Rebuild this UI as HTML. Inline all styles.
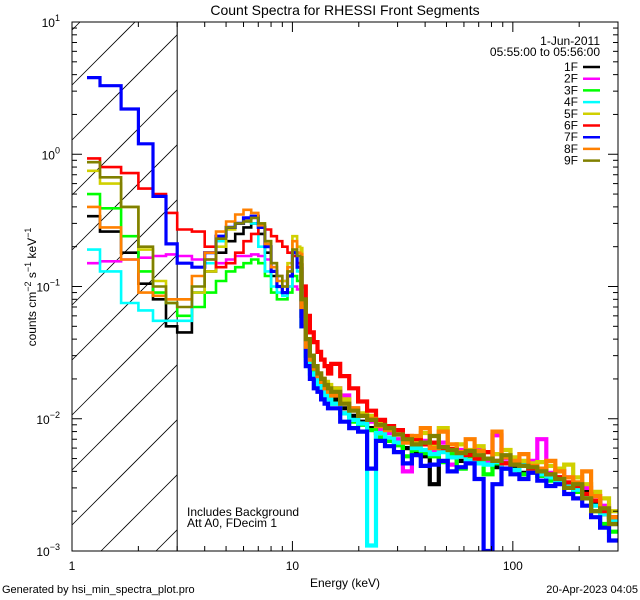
<!DOCTYPE html>
<html><head><meta charset="utf-8"><style>
html,body{margin:0;padding:0;background:#fff;overflow:hidden;width:640px;height:600px;}
svg{display:block;}
svg text{font-family:"Liberation Sans",sans-serif;fill:#000;}
</style></head><body>
<svg id="chart" width="640" height="600" viewBox="0 0 640 600" xmlns="http://www.w3.org/2000/svg">
<rect width="640" height="600" fill="#fff"/>
<text x="345" y="15" font-size="14" text-anchor="middle">Count Spectra for RHESSI Front Segments</text>
<g id="hatch"></g>
<g id="series"></g>
<g id="axes"></g>
<text transform="translate(36,287) rotate(-90)" font-size="12" text-anchor="middle">counts cm<tspan dy="-5" font-size="9">−2</tspan><tspan dy="5"> s</tspan><tspan dy="-5" font-size="9">−1</tspan><tspan dy="5"> keV</tspan><tspan dy="-5" font-size="9">−1</tspan></text>
<text x="345" y="587" font-size="12" text-anchor="middle">Energy (keV)</text>
<text x="2" y="593" font-size="11">Generated by hsi_min_spectra_plot.pro</text>
<text x="638" y="593" font-size="11" text-anchor="end">20-Apr-2023 04:05</text>
<text x="187" y="516" font-size="12">Includes Background</text>
<text x="187" y="527" font-size="12">Att A0, FDecim 1</text>
<text x="600" y="45" font-size="12" text-anchor="end">1-Jun-2011</text>
<text x="600" y="56" font-size="12" text-anchor="end">05:55:00 to 05:56:00</text>
<g id="legend"></g>
</svg>
<script>
const names=["1F","2F","3F","4F","5F","6F","7F","8F","9F"];
const colors=["#000000","#ff00ff","#00ff00","#00ffff","#d0d000","#ff0000","#0000ff","#ff8000","#808000"];
const lowEdges=[1.17,1.34,1.67,2.0,2.33,2.67,3.0];
const midStart=3.0, midStep=0.5, midCount=24;
const highStart=15, highEnd=300, highCount=32;
const sLow=[
[0.34,0.26,0.18,0.105,0.08,0.05],
[0.15,0.155,0.16,0.165,0.17,0.175],
[0.5,0.39,0.24,0.13,0.09,0.075],
[0.19,0.13,0.075,0.066,0.055,0.055],
[0.75,0.6,0.4,0.19,0.11,0.08],
[0.93,0.8,0.72,0.55,0.5,0.36],
[3.8,3.3,2.2,1.2,0.48,0.21],
[0.4,0.28,0.16,0.09,0.085,0.08],
[0.87,0.67,0.4,0.2,0.1,0.075]];
const sMid=[
[0.045,0.09,0.13,0.18,0.22,0.25,0.28,0.3,0.25,0.18,0.12,0.1,0.09,0.12,0.18,0.15,0.06,0.03,0.025,0.022,0.02,0.018,0.016,0.015],
[0.17,0.16,0.16,0.15,0.16,0.17,0.17,0.175,0.17,0.16,0.14,0.12,0.11,0.1,0.1,0.095,0.06,0.04,0.03,0.025,0.022,0.02,0.018,0.017],
[0.06,0.07,0.09,0.11,0.13,0.14,0.15,0.16,0.15,0.12,0.09,0.08,0.08,0.09,0.12,0.11,0.05,0.03,0.024,0.021,0.019,0.017,0.016,0.015],
[0.055,0.09,0.15,0.22,0.28,0.3,0.31,0.3,0.2,0.13,0.1,0.09,0.085,0.1,0.17,0.13,0.05,0.028,0.022,0.02,0.018,0.016,0.015,0.014],
[0.08,0.09,0.13,0.2,0.27,0.3,0.32,0.34,0.3,0.22,0.15,0.12,0.11,0.15,0.24,0.2,0.08,0.04,0.03,0.025,0.022,0.02,0.019,0.018],
[0.27,0.26,0.2,0.14,0.15,0.18,0.22,0.25,0.28,0.27,0.24,0.22,0.2,0.18,0.17,0.15,0.1,0.06,0.045,0.038,0.032,0.028,0.025,0.022],
[0.15,0.14,0.18,0.24,0.28,0.3,0.33,0.34,0.28,0.2,0.13,0.1,0.09,0.12,0.18,0.14,0.05,0.025,0.02,0.017,0.016,0.014,0.013,0.012],
[0.08,0.12,0.18,0.26,0.31,0.35,0.38,0.36,0.29,0.21,0.14,0.11,0.1,0.14,0.22,0.18,0.07,0.035,0.028,0.024,0.021,0.019,0.017,0.016],
[0.07,0.1,0.16,0.23,0.28,0.3,0.31,0.33,0.3,0.22,0.15,0.12,0.1,0.13,0.19,0.17,0.08,0.04,0.03,0.025,0.022,0.02,0.018,0.017]];
const sHigh=[
[0.014,0.012,0.0105,0.0095,0.0085,0.0078,0.0072,0.0065,0.006,0.0055,0.0052,0.0032,0.0058,0.0052,0.0048,0.0055,0.0046,0.005,0.0043,0.0046,0.0044,0.0039,0.0041,0.0042,0.0035,0.0036,0.0031,0.0028,0.0028,0.0023,0.0019,0.0016],
[0.017,0.015,0.012,0.0105,0.0095,0.0082,0.0078,0.007,0.004,0.0065,0.0068,0.0058,0.0066,0.0045,0.0058,0.0052,0.0058,0.0048,0.0075,0.005,0.0047,0.0045,0.0048,0.007,0.0039,0.004,0.0036,0.0032,0.003,0.0026,0.0022,0.0018],
[0.013,0.011,0.0095,0.009,0.0082,0.0072,0.0068,0.0063,0.0052,0.0058,0.0055,0.0052,0.0047,0.0054,0.0042,0.0052,0.0048,0.0038,0.0046,0.0042,0.0041,0.0038,0.004,0.0037,0.0034,0.0034,0.003,0.0028,0.0025,0.002,0.0016,0.0014],
[0.013,0.011,0.0098,0.0092,0.0011,0.0078,0.0072,0.0066,0.007,0.006,0.0058,0.0054,0.0056,0.0051,0.0052,0.0048,0.0046,0.0045,0.0047,0.0042,0.0041,0.0045,0.004,0.0038,0.0036,0.0034,0.0032,0.0029,0.0025,0.0022,0.0019,0.0017],
[0.017,0.014,0.012,0.011,0.0105,0.0095,0.0088,0.0082,0.007,0.0066,0.0078,0.0064,0.0085,0.0058,0.0064,0.0058,0.0062,0.0056,0.0054,0.0058,0.0051,0.0048,0.0046,0.0047,0.0044,0.0042,0.0045,0.0036,0.0032,0.0028,0.0025,0.002],
[0.026,0.021,0.017,0.0135,0.0115,0.0098,0.0088,0.0082,0.0074,0.007,0.0064,0.0066,0.006,0.0059,0.0056,0.0053,0.005,0.0056,0.0048,0.0046,0.0045,0.0044,0.0042,0.0041,0.0038,0.0036,0.0033,0.0031,0.0027,0.0024,0.002,0.0018],
[0.012,0.0095,0.0085,0.008,0.0042,0.0068,0.0062,0.0056,0.0046,0.0053,0.0044,0.0045,0.0048,0.004,0.0043,0.0046,0.0035,0.0009,0.0032,0.0042,0.0038,0.0035,0.0039,0.0034,0.0031,0.0032,0.0027,0.0025,0.0022,0.0018,0.0015,0.0012],
[0.015,0.013,0.012,0.0105,0.01,0.0088,0.0082,0.0076,0.0066,0.0074,0.0085,0.006,0.008,0.0064,0.0056,0.007,0.0057,0.005,0.008,0.0051,0.0048,0.0054,0.0044,0.0042,0.0048,0.004,0.0036,0.0033,0.004,0.0026,0.0021,0.0018],
[0.016,0.013,0.0115,0.0105,0.0098,0.009,0.0085,0.0076,0.007,0.0064,0.0066,0.0074,0.0061,0.0058,0.0055,0.0057,0.0053,0.005,0.0048,0.0053,0.0045,0.0044,0.0043,0.004,0.0038,0.0035,0.003,0.0032,0.0025,0.002,0.0021,0.0016]];
const xMin=1,xMax=300,yMin=1e-3,yMax=10;
const attenE=3.0;
const thickFromE=11;

const L=72,R=618,T=22,B=551,NS="http://www.w3.org/2000/svg";
const lx0=Math.log10(xMin),lx1=Math.log10(xMax),ly0=Math.log10(yMin),ly1=Math.log10(yMax);
function X(e){return L+(Math.log10(e)-lx0)/(lx1-lx0)*(R-L);}
function Y(v){return Math.min(B,B-(Math.log10(v)-ly0)/(ly1-ly0)*(B-T));}
function mk(tag,at,parent){const el=document.createElementNS(NS,tag);for(const k in at)el.setAttribute(k,at[k]);parent.appendChild(el);return el;}

const edges=lowEdges.slice();
for(let i=1;i<=midCount;i++)edges.push(midStart+i*midStep);
for(let i=1;i<=highCount;i++)edges.push(highStart*Math.pow(highEnd/highStart,i/highCount));

// hatch lines computed inside rectangle (45 deg, up-right)
const hg=document.getElementById('hatch');
const defs=mk('defs',{},hg);
const HR=X(attenE);
for(let c=T+8;c<B+(HR-L);c+=55){
  // line: y = c - (x - L)
  let xa=L, ya=c;
  if(ya>B){xa=L+(ya-B);ya=B;}
  let xb=HR, yb=c-(HR-L);
  if(yb<T){xb=L+(c-T);yb=T;}
  if(xa>=xb)continue;
  const ln=mk('line',{x1:xa,y1:ya,x2:xb,y2:yb,stroke:'#000','stroke-width':0.8},hg);
  
  
}
const al=mk('line',{x1:HR,y1:T,x2:HR,y2:B,stroke:'#000','stroke-width':1},hg);



const sg=document.getElementById('series');
const sc=mk('clipPath',{id:'pclip'},defs);
mk('rect',{x:L,y:T,width:R-L,height:B-T},sc);
sg.setAttribute('clip-path','url(#pclip)');
for(let s=0;s<names.length;s++){
  const vals=sLow[s].concat(sMid[s],sHigh[s]);
  let d1='',d2='',prevY=null;
  for(let i=0;i<vals.length;i++){
    const x0=X(edges[i]),x1=Math.min(R,X(edges[i+1])),y=Y(vals[i]);
    if(edges[i]<thickFromE){
      d1+=(i===0?'M':'L')+x0.toFixed(1)+','+y.toFixed(1)+'L'+x1.toFixed(1)+','+y.toFixed(1);
    }else{
      if(d2===''){d2='M'+x0.toFixed(1)+','+(prevY===null?y:prevY).toFixed(1);}
      d2+='L'+x0.toFixed(1)+','+y.toFixed(1)+'L'+x1.toFixed(1)+','+y.toFixed(1);
    }
    prevY=y;
  }
  const g=mk('g',{},sg);
  
  
  mk('path',{d:d1,fill:'none',stroke:colors[s],'stroke-width':s===6?3.2:2.6},g);
  mk('path',{d:d2,fill:'none',stroke:colors[s],'stroke-width':4.2},g);
}

const ag=document.getElementById('axes');
const box=mk('rect',{x:L,y:T,width:R-L,height:B-T,fill:'none',stroke:'#000','stroke-width':1},ag);


for(let dcd=0;dcd<=2;dcd++){
  for(let m=1;m<=9;m++){
    const e=m*Math.pow(10,dcd); if(e<xMin||e>xMax)continue;
    const x=X(e),len=m===1?10:5;
    mk('line',{x1:x,y1:B,x2:x,y2:B-len,stroke:'#000'},ag);
    mk('line',{x1:x,y1:T,x2:x,y2:T+len,stroke:'#000'},ag);
    if(m===1){const t=mk('text',{x:x,y:570,'font-size':12,'text-anchor':'middle'},ag);t.textContent=String(e);
      
      }
  }
}
for(let p=-3;p<=1;p++){
  for(let m=1;m<=9;m++){
    const v=m*Math.pow(10,p); if(v>yMax*1.0001)continue;
    const y=Y(v),len=m===1?10:5;
    mk('line',{x1:L,y1:y,x2:L+len,y2:y,stroke:'#000'},ag);
    mk('line',{x1:R,y1:y,x2:R-len,y2:y,stroke:'#000'},ag);
    if(m===1){const t=mk('text',{x:L-12,y:y+5,'font-size':12,'text-anchor':'end'},ag);
      
      
      t.appendChild(document.createTextNode('10'));
      const ts=mk('tspan',{dy:-6,'font-size':9},t);ts.textContent=p<0?'−'+(-p):String(p);}
  }
}

const lg=document.getElementById('legend');
for(let s=0;s<names.length;s++){
  const y=67+s*11.7;
  const t=mk('text',{x:578,y:y+4,'font-size':12,'text-anchor':'end'},lg);t.textContent=names[s];
  
  
  const l=mk('line',{x1:583,y1:y,x2:600,y2:y,stroke:colors[s],'stroke-width':2.5},lg);
  
  
}
</script>
</body></html>
